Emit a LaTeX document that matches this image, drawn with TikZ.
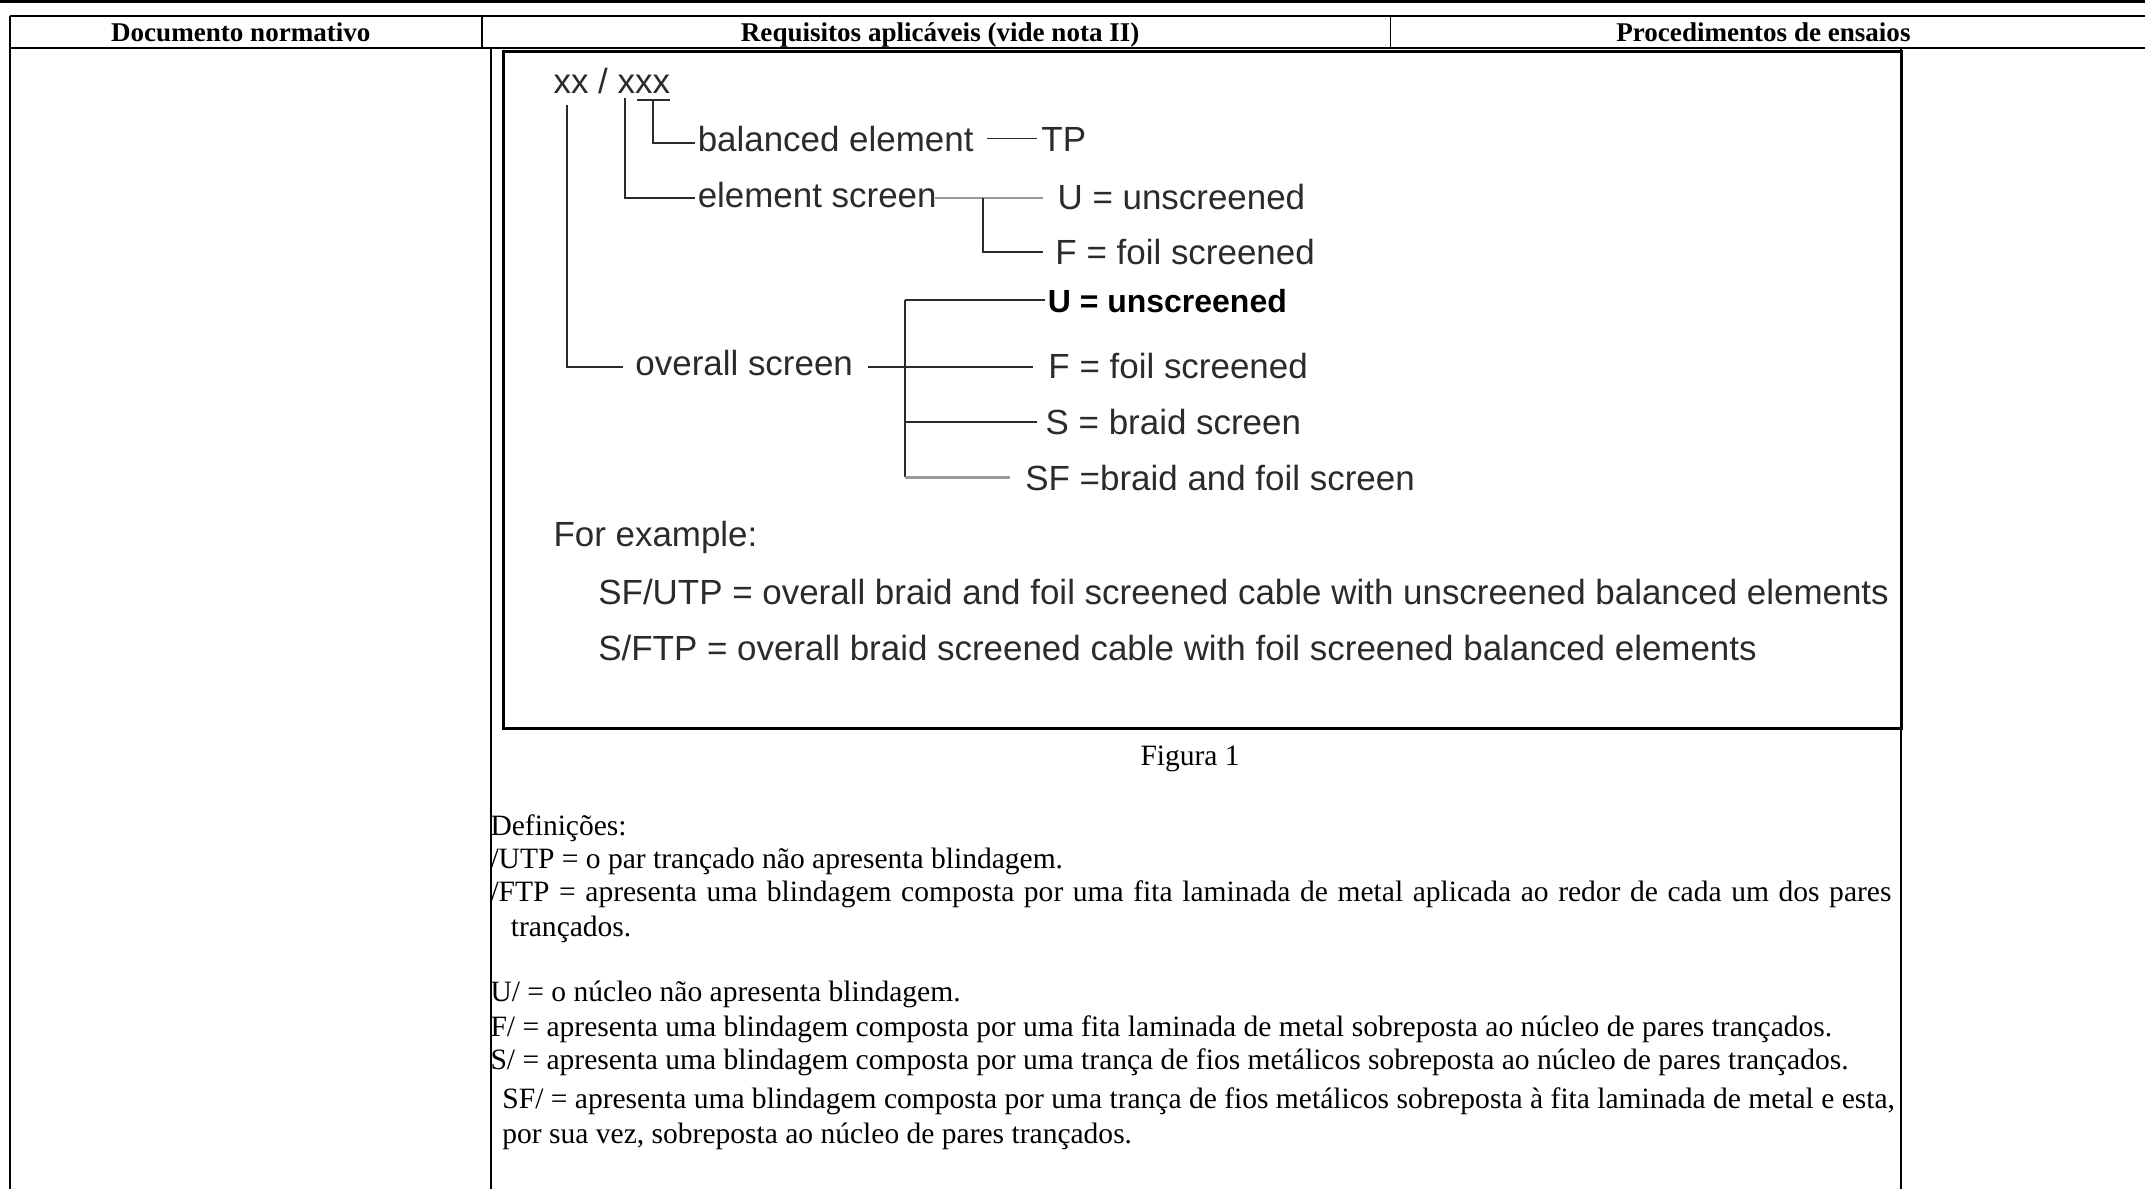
\documentclass[tikz,border=0pt]{standalone}
\usepackage{fontspec}
\setmainfont{Liberation Serif}
\setsansfont{Liberation Sans}
\definecolor{ink}{HTML}{2B2B2B}
\definecolor{faint}{HTML}{9A9A9A}
\tikzset{
  rule/.style={line width=0.8pt},
  head/.style={font=\fontsize{11}{13}\selectfont\bfseries, anchor=base, inner sep=0pt},
  body/.style={font=\fontsize{12}{14}\selectfont, anchor=base west, inner sep=0pt},
  lbl/.style={font=\fontsize{14.2}{17}\selectfont\sffamily, text=ink, anchor=base west, inner sep=0pt},
  tree/.style={draw=ink, line width=0.7pt},
  treefaint/.style={draw=faint, line width=0.9pt}
}
\begin{document}
\begin{tikzpicture}
\useasboundingbox (0,0) rectangle (30.64,-16.99);
% table frame
\draw[line width=1.2pt] (0,-0.02) -- (30.64,-0.02);
\draw[rule] (0.14,-0.23) -- (30.64,-0.23);
\draw[rule] (0.14,-0.69) -- (30.64,-0.69);
\draw[rule] (0.14,-0.23) -- (0.14,-16.99);
\draw[rule] (6.89,-0.23) -- (6.89,-0.69);
\draw[line width=0.5pt] (19.86,-0.23) -- (19.86,-0.69);
\draw[rule] (7.02,-0.69) -- (7.02,-16.99);
\draw[rule] (27.16,-0.69) -- (27.16,-16.99);
\node[head] (hdoc) at (3.44,-0.59) {Documento normativo};
\node[head] (hreq) at (13.43,-0.59) {Requisitos aplicáveis (vide nota II)};
\node[head] (hproc) at (25.19,-0.59) {Procedimentos de ensaios};

% figure box
\draw[line width=1.2pt] (7.19,-0.74) rectangle (27.16,-10.40);

% code and its branches
\node[lbl] (code) at (7.90,-1.33) {xx / xxx};
\coordinate (a1) at (8.10,-1.50);
\coordinate (a2) at (8.10,-5.24);
\coordinate (a3) at (8.90,-5.24);
\coordinate (b1) at (8.93,-1.40);
\coordinate (b2) at (8.93,-2.83);
\coordinate (b3) at (9.93,-2.83);
\coordinate (c1) at (9.10,-1.43);
\coordinate (c2) at (9.57,-1.43);
\coordinate (c3) at (9.33,-1.43);
\coordinate (c4) at (9.33,-2.04);
\coordinate (c5) at (9.93,-2.04);
\draw[tree] (a1) -- (a2) -- (a3);
\draw[tree] (b1) -- (b2) -- (b3);
\draw[tree] (c1) -- (c2);
\draw[tree] (c3) -- (c4) -- (c5);

\node[lbl] (bal) at (9.96,-2.16) {balanced element};
\node[lbl] (tp) at (14.87,-2.16) {TP};
\coordinate (t1) at (14.10,-1.98);
\coordinate (t2) at (14.81,-1.98);
\draw[tree] (t1) -- (t2);

% element screen
\node[lbl] (esc) at (9.96,-2.97) {element screen};
\coordinate (e1) at (13.36,-2.83);
\coordinate (e2) at (14.90,-2.83);
\coordinate (e3) at (14.04,-2.83);
\coordinate (e4) at (14.04,-3.60);
\coordinate (e5) at (14.90,-3.60);
\draw[treefaint] (e1) -- (e2);
\draw[tree] (e3) -- (e4) -- (e5);
\node[lbl] (eu) at (15.10,-2.99) {U = unscreened};
\node[lbl] (ef) at (15.07,-3.78) {F = foil screened};

% overall screen
\node[lbl] (osc) at (9.07,-5.36) {overall screen};
\coordinate (o1) at (12.93,-4.29);
\coordinate (o2) at (12.93,-6.82);
\coordinate (o3) at (14.93,-4.29);
\coordinate (o4) at (12.40,-5.24);
\coordinate (o5) at (14.76,-5.24);
\coordinate (o6) at (12.93,-6.03);
\coordinate (o7) at (14.81,-6.03);
\coordinate (o8) at (14.43,-6.82);
\draw[tree] (o1) -- (o2);
\draw[tree] (o1) -- (o3);
\draw[tree] (o4) -- (o5);
\draw[tree] (o6) -- (o7);
\draw[treefaint] (o2) -- (o8);
\node[lbl, text=black, font=\fontsize{13}{16}\selectfont\sffamily\bfseries] (ou) at (14.96,-4.46) {U = unscreened};
\node[lbl] (of) at (14.97,-5.41) {F = foil screened};
\node[lbl] (os) at (14.93,-6.21) {S = braid screen};
\node[lbl] (osf) at (14.64,-7.00) {SF =braid and foil screen};

% examples
\node[lbl] (ex) at (7.90,-7.81) {For example:};
\node[lbl] (ex1) at (8.54,-8.63) {SF/UTP = overall braid and foil screened cable with unscreened balanced elements};
\node[lbl] (ex2) at (8.54,-9.43) {S/FTP = overall braid screened cable with foil screened balanced elements};

\node[body, anchor=base] (cap) at (17.0,-10.94) {Figura 1};

% definitions
\node[body] (def) at (7.00,-11.93) {Definições:};
\node[body] (dutp) at (7.00,-12.40) {/UTP = o par trançado não apresenta blindagem.};
\node[body] (dftp) at (7.00,-12.88) {\makebox[20.01cm][s]{/FTP = apresenta uma blindagem composta por uma fita laminada de metal aplicada ao redor de cada um dos pares}};
\node[body] (dftp2) at (7.29,-13.37) {trançados.};
\node[body] (du) at (7.00,-14.31) {U/ = o núcleo não apresenta blindagem.};
\node[body] (df) at (7.00,-14.80) {F/ = apresenta uma blindagem composta por uma fita laminada de metal sobreposta ao núcleo de pares trançados.};
\node[body] (ds) at (7.00,-15.28) {S/ = apresenta uma blindagem composta por uma trança de fios metálicos sobreposta ao núcleo de pares trançados.};
\node[body] (dsf) at (7.17,-15.83) {SF/ = apresenta uma blindagem composta por uma trança de fios metálicos sobreposta à fita laminada de metal e esta,};
\node[body] (dsf2) at (7.17,-16.34) {por sua vez, sobreposta ao núcleo de pares trançados.};
\end{tikzpicture}
\end{document}
